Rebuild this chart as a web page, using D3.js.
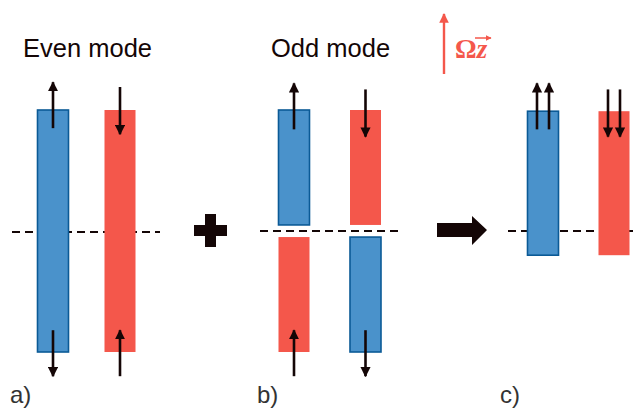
<!DOCTYPE html>
<html>
<head>
<meta charset="utf-8">
<script src="https://cdn.jsdelivr.net/npm/d3@7"></script>
<style>
body { margin: 0; background: #fff; }
svg { display: block; }
</style>
</head>
<body>
<script>
const width = 638;
const height = 408;

// panels and titles
const panels = ["a)", "b)", "c)"];
const titles = ["Even mode", "Odd mode", ""];

// bars: panel, column (0 left, 1 right), kind, top level, bottom level (1 = top, 0 = mid, -1 = bottom)
const bars = [
  ["a", 0, "blue", 1, -1],
  ["a", 1, "red", 1, -1],
  ["b", 0, "blue", 1, 0.05],
  ["b", 1, "red", 1, 0.05],
  ["b", 0, "red", -0.05, -1],
  ["b", 1, "blue", -0.05, -1],
  ["c", 0, "blue", 0.99, -0.2],
  ["c", 1, "red", 0.99, -0.2]
];

// arrows: panel, column, offset in column, from level, to level
const arrows = [
  ["a", 0, 0, 0.85, 1.23],
  ["a", 1, 0, 1.19, 0.8],
  ["a", 0, 0, -0.82, -1.2],
  ["a", 1, 0, -1.2, -0.82],
  ["b", 0, 0, 0.84, 1.22],
  ["b", 1, 0, 1.17, 0.78],
  ["b", 0, 0, -1.2, -0.82],
  ["b", 1, 0, -0.82, -1.2],
  ["c", 0, -1, 0.84, 1.22],
  ["c", 0, 1, 0.84, 1.22],
  ["c", 1, -1, 1.17, 0.78],
  ["c", 1, 1, 1.17, 0.78]
];

const colors = {blue: "#4a92cb", red: "#f4574b"};
const strokes = {blue: "#0b5a96", red: "none"};

const panelX = d3.scaleOrdinal().domain(["a", "b", "c"]).range([37, 278, 527]);
const colStep = d3.scaleOrdinal().domain(["a", "b", "c"]).range([67, 71.5, 71]);
const barW = 31;
const y = d3.scaleLinear().domain([-1, 1]).range([352, 110]);
const colX = (p, c) => panelX(p) + c * colStep(p) + 0.5;

const svg = d3.select("body").append("svg").attr("width", width).attr("height", height)
  .style("font-family", "'Liberation Sans', Arial, sans-serif");

const defs = svg.append("defs");
defs.append("marker").attr("id", "head").attr("viewBox", "0 0 10 10")
  .attr("refX", 9).attr("refY", 5).attr("markerWidth", 3.9).attr("markerHeight", 3.9)
  .attr("markerUnits", "strokeWidth").attr("orient", "auto")
  .append("path").attr("d", "M0,0 L10,5 L0,10 z").attr("fill", "#140606");
defs.append("marker").attr("id", "headRed").attr("viewBox", "0 0 10 10")
  .attr("refX", 9).attr("refY", 5).attr("markerWidth", 4).attr("markerHeight", 4)
  .attr("markerUnits", "strokeWidth").attr("orient", "auto")
  .append("path").attr("d", "M0,0 L10,5 L0,10 z").attr("fill", "#f4574b");

// dashed mid lines
const dashes = [["a", 12, 160, 1], ["b", 260, 400, 0], ["c", 508, 638, 0]];
svg.selectAll("line.mid").data(dashes).enter().append("line")
  .attr("class", "mid")
  .attr("x1", d => d[1]).attr("x2", d => d[2])
  .attr("y1", d => y(0) + d[3]).attr("y2", d => y(0) + d[3])
  .attr("stroke", "#140606").attr("stroke-width", 2.2).attr("stroke-dasharray", "8,5");

// bars
svg.selectAll("rect.bar").data(bars).enter().append("rect")
  .attr("class", "bar")
  .attr("x", d => colX(d[0], d[1]))
  .attr("y", d => y(d[3]))
  .attr("width", barW)
  .attr("height", d => y(d[4]) - y(d[3]))
  .attr("fill", d => colors[d[2]])
  .attr("stroke", d => strokes[d[2]])
  .attr("stroke-width", 1.6);

// arrows
svg.selectAll("line.arr").data(arrows).enter().append("line")
  .attr("class", "arr")
  .attr("x1", d => colX(d[0], d[1]) + barW / 2 + d[2] * 6)
  .attr("x2", d => colX(d[0], d[1]) + barW / 2 + d[2] * 6)
  .attr("y1", d => y(d[3]))
  .attr("y2", d => y(d[4]))
  .attr("stroke", "#140606").attr("stroke-width", 2.6)
  .attr("marker-end", "url(#head)");

// titles
svg.selectAll("text.title").data(titles).enter().append("text")
  .attr("class", "title")
  .attr("x", (d, i) => [23, 271, 0][i]).attr("y", 57)
  .attr("font-size", 25.5).attr("fill", "#140606")
  .text(d => d);

// panel labels
svg.selectAll("text.lab").data(panels).enter().append("text")
  .attr("class", "lab")
  .attr("x", (d, i) => [10, 257, 500][i]).attr("y", 403)
  .attr("font-size", 24).attr("fill", "#333")
  .text(d => d);

// plus sign
svg.append("path")
  .attr("d", "M205,214 H216 V225 H227 V236 H216 V247 H205 V236 H194 V225 H205 Z")
  .attr("fill", "#140606");

// block arrow
svg.append("path")
  .attr("d", "M437,223 H472 V216 L487,230 L472,245 V237 H437 Z")
  .attr("fill", "#140606");

// rotation arrow
svg.append("line")
  .attr("x1", 444).attr("x2", 444).attr("y1", 74).attr("y2", 14)
  .attr("stroke", "#f4574b").attr("stroke-width", 2.4)
  .attr("marker-end", "url(#headRed)");

const om = svg.append("text").attr("x", 455).attr("y", 58)
  .style("font-family", "'Liberation Serif', 'DejaVu Serif', serif")
  .attr("font-weight", "bold")
  .attr("font-size", 27).attr("fill", "#f4574b");
om.append("tspan").text("Ω");
om.append("tspan").attr("font-style", "italic").text("z");
svg.append("line").attr("x1", 475).attr("x2", 491).attr("y1", 38).attr("y2", 38)
  .attr("stroke", "#f4574b").attr("stroke-width", 1.5).attr("marker-end", "url(#headRed)");
</script>
</body>
</html>
